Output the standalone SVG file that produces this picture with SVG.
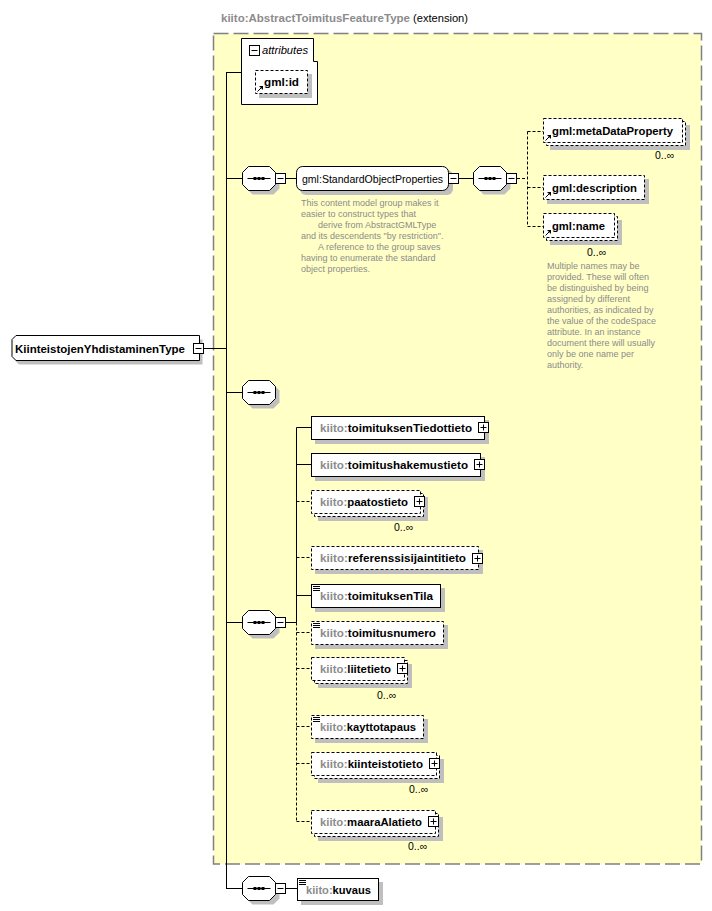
<svg xmlns="http://www.w3.org/2000/svg" xmlns:xlink="http://www.w3.org/1999/xlink" width="712" height="911" viewBox="0 0 712 911">
<style>
.ln{stroke:#000;stroke-width:1;fill:none}
.dl{stroke:#000;stroke-width:1;fill:none;stroke-dasharray:3,2}
.box{fill:#fff;stroke:#000;stroke-width:1}
.dbox{fill:#fff;stroke:#000;stroke-width:1;stroke-dasharray:3,2}
.sh{fill:#bfbfbf}
.lbl{font-family:"Liberation Sans",Arial,sans-serif;font-size:11px;font-weight:bold;fill:#000}
.ns{fill:#8c8c8c}
.reg{font-family:"Liberation Sans",Arial,sans-serif;font-size:11px;fill:#000}
.doc{font-family:"Liberation Sans",Arial,sans-serif;font-size:9px;fill:#8c8c8c}
.occ{font-family:"Liberation Sans",Arial,sans-serif;font-size:10.5px;fill:#000}
</style>
<defs>
<g id="seq">
<polygon class="sh" points="10,4 31,4 37,10 37,22 31,28 10,28 4,22 4,10"/>
<polygon class="box" points="6,0 27,0 33,6 33,18 27,24 6,24 0,18 0,6"/>
<line class="ln" x1="5" y1="12" x2="28" y2="12"/>
<rect x="11" y="10.5" width="3" height="3" fill="#000"/>
<rect x="15" y="10.5" width="3" height="3" fill="#000"/>
<rect x="19" y="10.5" width="3" height="3" fill="#000"/>
</g>
<g id="minus">
<rect class="box" x="0" y="0" width="10" height="10"/>
<line class="ln" x1="2" y1="5" x2="8" y2="5"/>
</g>
<g id="plus">
<rect class="box" x="0" y="0" width="10" height="10"/>
<line class="ln" x1="2" y1="5" x2="8" y2="5"/>
<line class="ln" x1="5" y1="2" x2="5" y2="8"/>
</g>
<g id="ref">
<line class="ln" x1="0.5" y1="5.5" x2="4" y2="2"/>
<polygon points="2,0 6,0 6,4" fill="#000"/>
</g>
<g id="simple">
<rect x="0" y="0" width="7" height="1" fill="#000"/>
<rect x="0" y="2" width="7" height="1" fill="#000"/>
<rect x="0" y="4" width="7" height="1" fill="#000"/>
</g>
</defs>

<g id="extension">
<rect x="213.5" y="33.5" width="488" height="830.5" fill="#ffffc6" stroke="#808080" stroke-width="1.5" stroke-dasharray="15,5"/>
<text x="221" y="22" class="lbl ns" textLength="189" lengthAdjust="spacingAndGlyphs">kiito:AbstractToimitusFeatureType</text>
<text x="413" y="22" class="reg ns" textLength="55" lengthAdjust="spacingAndGlyphs">(extension)</text>
</g>

<g id="connectors">
<line class="ln" x1="203" y1="348.5" x2="226.5" y2="348.5"/>
<line class="ln" x1="226.5" y1="72.5" x2="226.5" y2="888.5"/>
<line class="ln" x1="226" y1="72.5" x2="241" y2="72.5"/>
<line class="ln" x1="226" y1="178.5" x2="242" y2="178.5"/>
<line class="ln" x1="226" y1="392.5" x2="242" y2="392.5"/>
<line class="ln" x1="226" y1="622.5" x2="242" y2="622.5"/>
<line class="ln" x1="226" y1="888.5" x2="242" y2="888.5"/>
<line class="ln" x1="285" y1="178.5" x2="296" y2="178.5"/>
<line class="ln" x1="458" y1="178.5" x2="473" y2="178.5"/>
<line class="dl" x1="517" y1="178.5" x2="527.5" y2="178.5"/>
<line class="dl" x1="527.5" y1="131.5" x2="527.5" y2="226.5"/>
<line class="dl" x1="527.5" y1="131.5" x2="543" y2="131.5"/>
<line class="dl" x1="527.5" y1="187.5" x2="543" y2="187.5"/>
<line class="dl" x1="527.5" y1="226.5" x2="543" y2="226.5"/>
<line class="ln" x1="285" y1="622.5" x2="296.5" y2="622.5"/>
<line class="ln" x1="296.5" y1="427.5" x2="296.5" y2="622.5"/>
<line class="dl" x1="296.5" y1="622.5" x2="296.5" y2="822.5"/>
<line class="ln" x1="296.5" y1="427.5" x2="311" y2="427.5"/>
<line class="ln" x1="296.5" y1="464.5" x2="311" y2="464.5"/>
<line class="dl" x1="296.5" y1="501.5" x2="311" y2="501.5"/>
<line class="dl" x1="296.5" y1="557.5" x2="311" y2="557.5"/>
<line class="ln" x1="296.5" y1="595.5" x2="311" y2="595.5"/>
<line class="dl" x1="296.5" y1="632.5" x2="311" y2="632.5"/>
<line class="dl" x1="296.5" y1="668.5" x2="311" y2="668.5"/>
<line class="dl" x1="296.5" y1="726.5" x2="311" y2="726.5"/>
<line class="dl" x1="296.5" y1="763.5" x2="311" y2="763.5"/>
<line class="dl" x1="296.5" y1="821.5" x2="311" y2="821.5"/>
<line class="ln" x1="285" y1="888.5" x2="297" y2="888.5"/>
</g>

<g id="root">
<path class="sh" d="M19,339.5 H202.5 V364.5 H19 L15,360.5 V343.5 Z"/>
<path class="box" d="M16,335.5 H199.5 V360.5 H16 L12,356.5 V339.5 Z"/>
<text x="15" y="352.5" class="lbl" textLength="170" lengthAdjust="spacingAndGlyphs">KiinteistojenYhdistaminenType</text>
<use href="#minus" x="193.5" y="343.5"/>
</g>

<g id="attributes">
<path class="box" d="M241.5,38.5 H313.5 V61.5 H317.5 V104.5 H241.5 Z"/>
<use href="#minus" x="249.5" y="45.5"/>
<text x="262" y="54" class="reg" font-style="italic" textLength="46" lengthAdjust="spacingAndGlyphs">attributes</text>
<g id="gml-id">
<rect class="sh" x="259" y="74" width="53" height="24"/>
<rect class="dbox" x="255.5" y="70.5" width="52" height="23"/>
<use href="#ref" x="257" y="86"/>
<text x="264" y="86" class="lbl" textLength="35" lengthAdjust="spacingAndGlyphs">gml:id</text>
</g>
</g>

<g id="seq1"><use href="#seq" x="242.5" y="166.5"/><use href="#minus" x="275.5" y="173.5"/></g>

<g id="StandardObjectProperties">
<rect class="sh" x="300" y="170" width="153" height="25" rx="6"/>
<rect class="box" x="296.5" y="166.5" width="152" height="24" rx="6"/>
<text x="302" y="182.5" class="reg" textLength="141" lengthAdjust="spacingAndGlyphs">gml:StandardObjectProperties</text>
<use href="#minus" x="448.5" y="173.5"/>
<text class="doc">
<tspan x="301" y="206">This content model group makes it</tspan>
<tspan x="301" y="217">easier to construct types that</tspan>
<tspan x="318" y="228">derive from AbstractGMLType</tspan>
<tspan x="301" y="239">and its descendents "by restriction".</tspan>
<tspan x="318" y="250">A reference to the group saves</tspan>
<tspan x="301" y="261">having to enumerate the standard</tspan>
<tspan x="301" y="272">object properties.</tspan>
</text>
</g>

<g id="seq2"><use href="#seq" x="473.5" y="166.5"/><use href="#minus" x="506.5" y="173.5"/></g>

<g id="metaDataProperty">
<rect class="sh" x="550" y="125" width="140" height="25"/>
<rect class="dbox" x="546.5" y="121.5" width="139" height="24"/>
<rect class="dbox" x="543.5" y="118.5" width="139" height="24"/>
<use href="#ref" x="545" y="135"/>
<text x="552" y="135" class="lbl" textLength="121" lengthAdjust="spacingAndGlyphs">gml:metaDataProperty</text>
<text x="655" y="159" class="occ">0..∞</text>
</g>

<g id="description">
<rect class="sh" x="547" y="179" width="102" height="25"/>
<rect class="dbox" x="543.5" y="175.5" width="101" height="24"/>
<use href="#ref" x="545" y="192"/>
<text x="552" y="192" class="lbl" textLength="85" lengthAdjust="spacingAndGlyphs">gml:description</text>
</g>

<g id="name">
<rect class="sh" x="550" y="220" width="72" height="25"/>
<rect class="dbox" x="546.5" y="216.5" width="71" height="24"/>
<rect class="dbox" x="543.5" y="213.5" width="71" height="24"/>
<use href="#ref" x="545" y="230"/>
<text x="552" y="230" class="lbl" textLength="53" lengthAdjust="spacingAndGlyphs">gml:name</text>
<text x="587" y="256" class="occ">0..∞</text>
<text class="doc">
<tspan x="547" y="269">Multiple names may be</tspan>
<tspan x="547" y="280">provided.  These will often</tspan>
<tspan x="547" y="291">be distinguished by being</tspan>
<tspan x="547" y="302">assigned by different</tspan>
<tspan x="547" y="313">authorities, as indicated by</tspan>
<tspan x="547" y="324">the value of the codeSpace</tspan>
<tspan x="547" y="335">attribute.  In an instance</tspan>
<tspan x="547" y="346">document there will usually</tspan>
<tspan x="547" y="357">only be one name per</tspan>
<tspan x="547" y="368">authority.</tspan>
</text>
</g>

<g id="seq3"><use href="#seq" x="242.5" y="380.5"/></g>
<g id="seq4"><use href="#seq" x="242.5" y="610.5"/><use href="#minus" x="275.5" y="617.5"/></g>

<g id="toimituksenTiedottieto">
<rect class="sh" x="315" y="420" width="174" height="24"/>
<rect class="box" x="311.5" y="416.5" width="173" height="23"/>
<text x="320" y="432" class="lbl" textLength="152" lengthAdjust="spacingAndGlyphs"><tspan class="ns">kiito:</tspan>toimituksenTiedottieto</text>
<use href="#plus" x="478.5" y="422.5"/>
</g>

<g id="toimitushakemustieto">
<rect class="sh" x="315" y="457" width="170" height="24"/>
<rect class="box" x="311.5" y="453.5" width="169" height="23"/>
<text x="320" y="469" class="lbl" textLength="148" lengthAdjust="spacingAndGlyphs"><tspan class="ns">kiito:</tspan>toimitushakemustieto</text>
<use href="#plus" x="474.5" y="459.5"/>
</g>

<g id="paatostieto">
<rect class="sh" x="318" y="497" width="110" height="24"/>
<rect class="dbox" x="314.5" y="493.5" width="109" height="23"/>
<rect class="dbox" x="311.5" y="490.5" width="109" height="23"/>
<text x="320" y="506" class="lbl" textLength="88" lengthAdjust="spacingAndGlyphs"><tspan class="ns">kiito:</tspan>paatostieto</text>
<use href="#plus" x="414.5" y="496.5"/>
<text x="394" y="531" class="occ">0..∞</text>
</g>

<g id="referenssisijaintitieto">
<rect class="sh" x="315" y="550" width="168" height="24"/>
<rect class="dbox" x="311.5" y="546.5" width="167" height="23"/>
<text x="320" y="562" class="lbl" textLength="146" lengthAdjust="spacingAndGlyphs"><tspan class="ns">kiito:</tspan>referenssisijaintitieto</text>
<use href="#plus" x="472.5" y="553.5"/>
</g>

<g id="toimituksenTila">
<rect class="sh" x="315" y="588" width="130" height="24"/>
<rect class="box" x="311.5" y="584.5" width="129" height="23"/>
<use href="#simple" x="313" y="586"/>
<text x="320" y="600" class="lbl" textLength="113" lengthAdjust="spacingAndGlyphs"><tspan class="ns">kiito:</tspan>toimituksenTila</text>
</g>

<g id="toimitusnumero">
<rect class="sh" x="315" y="625" width="133" height="24"/>
<rect class="dbox" x="311.5" y="621.5" width="132" height="23"/>
<use href="#simple" x="313" y="623"/>
<text x="320" y="637" class="lbl" textLength="116" lengthAdjust="spacingAndGlyphs"><tspan class="ns">kiito:</tspan>toimitusnumero</text>
</g>

<g id="liitetieto">
<rect class="sh" x="318" y="664" width="94" height="24"/>
<rect class="dbox" x="314.5" y="660.5" width="93" height="23"/>
<rect class="dbox" x="311.5" y="657.5" width="93" height="23"/>
<text x="320" y="673" class="lbl" textLength="71" lengthAdjust="spacingAndGlyphs"><tspan class="ns">kiito:</tspan>liitetieto</text>
<use href="#plus" x="397.5" y="663.5"/>
<text x="377" y="699" class="occ">0..∞</text>
</g>

<g id="kayttotapaus">
<rect class="sh" x="315" y="719" width="113" height="24"/>
<rect class="dbox" x="311.5" y="715.5" width="112" height="23"/>
<use href="#simple" x="313" y="717"/>
<text x="320" y="731" class="lbl" textLength="96" lengthAdjust="spacingAndGlyphs"><tspan class="ns">kiito:</tspan>kayttotapaus</text>
</g>

<g id="kiinteistotieto">
<rect class="sh" x="318" y="759" width="126" height="24"/>
<rect class="dbox" x="314.5" y="755.5" width="125" height="23"/>
<rect class="dbox" x="311.5" y="752.5" width="125" height="23"/>
<text x="320" y="768" class="lbl" textLength="103" lengthAdjust="spacingAndGlyphs"><tspan class="ns">kiito:</tspan>kiinteistotieto</text>
<use href="#plus" x="429.5" y="758.5"/>
<text x="409" y="793" class="occ">0..∞</text>
</g>

<g id="maaraAlatieto">
<rect class="sh" x="318" y="817" width="125" height="24"/>
<rect class="dbox" x="314.5" y="813.5" width="124" height="23"/>
<rect class="dbox" x="311.5" y="810.5" width="124" height="23"/>
<text x="320" y="826" class="lbl" textLength="102" lengthAdjust="spacingAndGlyphs"><tspan class="ns">kiito:</tspan>maaraAlatieto</text>
<use href="#plus" x="428.5" y="816.5"/>
<text x="408" y="850" class="occ">0..∞</text>
</g>

<g id="seq5"><use href="#seq" x="242.5" y="876.5"/><use href="#minus" x="275.5" y="883.5"/></g>

<g id="kuvaus">
<rect class="sh" x="301" y="882" width="82" height="23"/>
<rect class="box" x="297.5" y="878.5" width="81" height="22"/>
<use href="#simple" x="299" y="880"/>
<text x="306" y="893.5" class="lbl" textLength="65" lengthAdjust="spacingAndGlyphs"><tspan class="ns">kiito:</tspan>kuvaus</text>
</g>
</svg>
